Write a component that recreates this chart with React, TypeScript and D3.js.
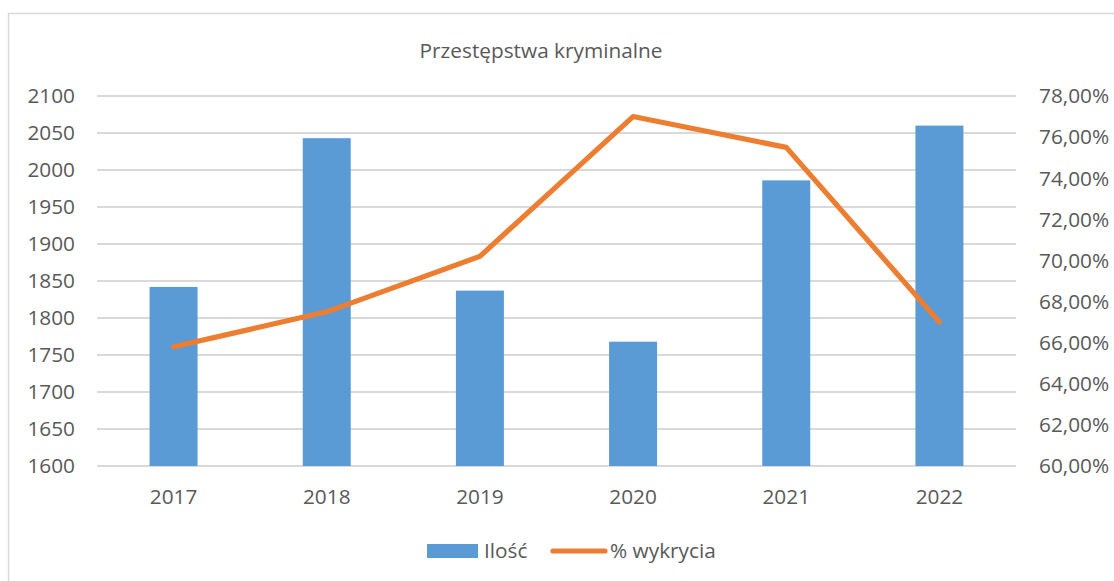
import React, { useEffect, useRef } from 'react';
import * as d3 from 'd3';

const years = ['2017', '2018', '2019', '2020', '2021', '2022'];
const counts = [1842, 2043, 1837, 1768, 1986, 2060];
const detection = [65.8, 67.5, 70.2, 77.0, 75.5, 67.0];
const leftTicks = [1600, 1650, 1700, 1750, 1800, 1850, 1900, 1950, 2000, 2050, 2100];
const rightTicks = [60, 62, 64, 66, 68, 70, 72, 74, 76, 78];
const title = 'Przestępstwa kryminalne';
const seriesNames = ['Ilość', '% wykrycia'];

const W = 1114;
const H = 581;
const barColor = '#5B9BD5';
const lineColor = '#ED7D31';
const gridColor = '#d9d9d9';
const textColor = '#595959';
const font = '"Open Sans", "Noto Sans", sans-serif';
const fs = 20.8;

const App = () => {
    const ref = useRef<SVGSVGElement>(null);

    useEffect(() => {
        if (!ref.current) return;
        const svg = d3.select(ref.current);
        svg.selectAll('*').remove();

        const margin = { top: 96, left: 97, right: 98, bottom: 115 };
        const x = d3.scaleBand().domain(years).range([margin.left, W - margin.right]);
        const yL = d3.scaleLinear().domain([1600, 2100]).range([466, 96]);
        const yR = d3.scaleLinear().domain([60, 78]).range([466, 96]);

        // chart frame
        svg.append('rect')
            .attr('x', 8.5).attr('y', 13.5)
            .attr('width', W + 20).attr('height', H + 20)
            .attr('fill', 'white')
            .attr('stroke', gridColor).attr('stroke-width', 1.5);

        // title
        svg.append('text')
            .attr('x', 541).attr('y', 58)
            .attr('text-anchor', 'middle')
            .attr('font-family', font).attr('font-size', fs)
            .attr('fill', textColor)
            .text(title);

        // gridlines
        svg.append('g').selectAll('line')
            .data(leftTicks)
            .enter().append('line')
            .attr('x1', x.range()[0]).attr('x2', x.range()[1])
            .attr('y1', d => yL(d)).attr('y2', d => yL(d))
            .attr('stroke', gridColor).attr('stroke-width', 1.8);

        // left axis
        svg.append('g').selectAll('text')
            .data(leftTicks)
            .enter().append('text')
            .attr('x', 75).attr('y', d => yL(d))
            .attr('dy', '0.35em')
            .attr('text-anchor', 'end')
            .attr('font-family', font).attr('font-size', fs)
            .attr('fill', textColor)
            .text(d => d);

        // right axis
        svg.append('g').selectAll('text')
            .data(rightTicks)
            .enter().append('text')
            .attr('x', 1039).attr('y', d => yR(d))
            .attr('dy', '0.35em')
            .attr('font-family', font).attr('font-size', fs)
            .attr('fill', textColor)
            .text(d => d.toFixed(2).replace('.', ',') + '%');

        // bars
        const bw = 48;
        svg.append('g').selectAll('rect')
            .data(counts)
            .enter().append('rect')
            .attr('x', (d, i) => x(years[i])! + x.bandwidth() / 2 - bw / 2)
            .attr('y', d => yL(d))
            .attr('width', bw)
            .attr('height', d => yL(1600) - yL(d))
            .attr('fill', barColor);

        // x labels
        svg.append('g').selectAll('text')
            .data(years)
            .enter().append('text')
            .attr('x', d => x(d)! + x.bandwidth() / 2)
            .attr('y', 504)
            .attr('text-anchor', 'middle')
            .attr('font-family', font).attr('font-size', fs)
            .attr('fill', textColor)
            .text(d => d);

        // line
        const line = d3.line<number>()
            .x((d, i) => x(years[i])! + x.bandwidth() / 2)
            .y(d => yR(d));
        svg.append('path')
            .datum(detection)
            .attr('d', line)
            .attr('fill', 'none')
            .attr('stroke', lineColor)
            .attr('stroke-width', 5.2)
            .attr('stroke-linejoin', 'round')
            .attr('stroke-linecap', 'round');

        // legend
        const lg = svg.append('g');
        lg.append('rect')
            .attr('x', 427).attr('y', 544)
            .attr('width', 51).attr('height', 14)
            .attr('fill', barColor);
        lg.append('text')
            .attr('x', 484).attr('y', 558)
            .attr('font-family', font).attr('font-size', fs)
            .attr('fill', textColor)
            .text(seriesNames[0]);
        lg.append('line')
            .attr('x1', 553).attr('x2', 605)
            .attr('y1', 551).attr('y2', 551)
            .attr('stroke', lineColor).attr('stroke-width', 5.2)
            .attr('stroke-linecap', 'round');
        lg.append('text')
            .attr('x', 610).attr('y', 558)
            .attr('font-family', font).attr('font-size', fs)
            .attr('fill', textColor)
            .text(seriesNames[1]);
    }, []);

    return (
        <svg ref={ref} width={W} height={H}
            style={{ position: 'absolute', left: 0, top: 0, background: 'white' }} />
    );
};

export default App;
